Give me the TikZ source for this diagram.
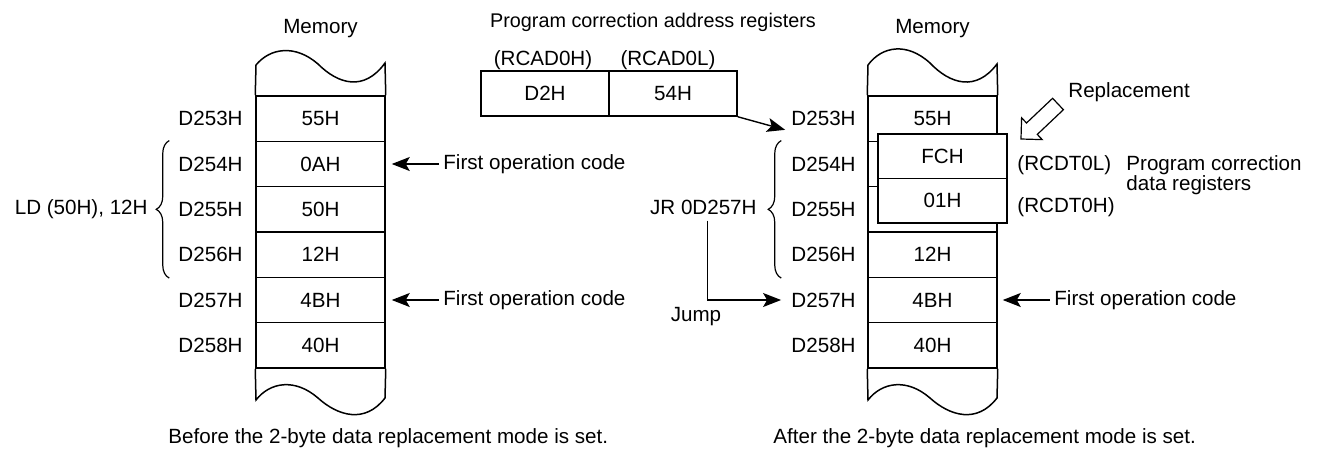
\documentclass[tikz,border=0pt]{standalone}
\usepackage{fontspec}
\setmainfont{Liberation Sans}
\usetikzlibrary{arrows.meta,decorations.pathreplacing}

\begin{document}
\begin{tikzpicture}[
    x=0.5pt, y=-0.5pt,
    font=\fontsize{10.3}{10}\selectfont,
    cell/.style={rectangle, draw, line width=0.75pt, minimum width=64.5pt, minimum height=22.67pt, inner sep=0pt},
    reg/.style={cell, fill=white, minimum height=22.25pt},
    addr/.style={anchor=east, inner sep=2pt},
    label/.style={inner sep=2pt},
    mem/.style={line width=0.75pt},
    brace/.style={decorate, decoration={brace, amplitude=6.5pt}, line width=0.6pt},
    arrow/.style={-{Stealth[length=9pt, width=7pt, inset=2pt]}, line width=0.7pt, shorten >=3pt},
    hollow/.style={draw, line width=0.6pt, line join=miter}
]
\useasboundingbox (0,0) rectangle (1319,451);

\node[label] (lmem) at (320.5,29) {Memory};
\node[cell] (lm1) at (320.5,118.67) {55H};
\node[cell] (lm2) at (320.5,164) {0AH};
\node[cell] (lm3) at (320.5,209.33) {50H};
\node[cell] (lm4) at (320.5,254.67) {12H};
\node[cell] (lm5) at (320.5,300) {4BH};
\node[cell] (lm6) at (320.5,345.33) {40H};
\draw[mem] (lm1.north west) -- (256,65) .. controls (270,48) and (295,44) .. (318,64)
    .. controls (338,84) and (364,92) .. (385,63) -- (lm1.north east);
\draw[mem] (lm6.south west) -- (256,400) .. controls (270,382) and (295,378) .. (318,398)
    .. controls (338,416) and (365,424) .. (385,398) -- (lm6.south east);

\node[addr] (la1) at (247,118.67) {D253H};
\node[addr] (la2) at (247,164) {D254H};
\node[addr] (la3) at (247,209.33) {D255H};
\node[addr] (la4) at (247,254.67) {D256H};
\node[addr] (la5) at (247,300) {D257H};
\node[addr] (la6) at (247,345.33) {D258H};
\draw[brace] ([xshift=-43pt]lm4.south west) -- ([xshift=-43pt]lm2.north west);
\node[addr] (ld) at (152,209) {LD (50H), 12H};

\node[label, anchor=west] (op1) at (439,164) {First operation code};
\node[label, anchor=west] (op2) at (439,300) {First operation code};
\draw[arrow] (op1.west) -- (lm2.east);
\draw[arrow] (op2.west) -- (lm5.east);
\node[label, anchor=west] (before) at (164,438) {Before the 2-byte data replacement mode is set.};

\node[label, font=\fontsize{9.9}{10}\selectfont] (title) at (653,22) {Program correction address registers};
\node[label] (rcadhl) at (543,60) {(RCAD0H)};
\node[label] (rcadll) at (668,60) {(RCAD0L)};
\node[reg, minimum width=64pt, minimum height=22.5pt] (rcadh) at (545,93.5) {D2H};
\node[reg, minimum width=64pt, minimum height=22.5pt] (rcadl) at (673,93.5) {54H};

\node[label] (rmem) at (932.5,29) {Memory};
\node[cell] (rm1) at (932.5,118.67) {55H};
\node[cell] (rm2) at (932.5,164) {};
\node[cell] (rm3) at (932.5,209.33) {};
\node[cell] (rm4) at (932.5,254.67) {12H};
\node[cell] (rm5) at (932.5,300) {4BH};
\node[cell] (rm6) at (932.5,345.33) {40H};
\draw[mem] (rm1.north west) -- (868,65) .. controls (882,46) and (907,42) .. (930,63)
    .. controls (950,84) and (976,92) .. (997,64) -- (rm1.north east);
\draw[mem] (rm6.south west) -- (868,400) .. controls (882,382) and (907,378) .. (930,398)
    .. controls (950,416) and (977,424) .. (997,398) -- (rm6.south east);
\node[reg] (fch) at (942.5,156.25) {FCH};
\node[reg] (one) at (942.5,200.75) {01H};

\node[addr] (ra1) at (860,118.67) {D253H};
\node[addr] (ra2) at (860,164) {D254H};
\node[addr] (ra3) at (860,209.33) {D255H};
\node[addr] (ra4) at (860,254.67) {D256H};
\node[addr] (ra5) at (860,300) {D257H};
\node[addr] (ra6) at (860,345.33) {D258H};
\draw[brace] ([xshift=-43pt]rm4.south west) -- ([xshift=-43pt]rm2.north west);
\node[addr] (jr) at (761,207) {JR 0D257H};
\node[label] (jump) at (696,317) {Jump};

\draw[arrow, shorten >=1pt] (rcadl.south east) -- (ra1.south west);
\draw[arrow] ([xshift=2pt,yshift=-1pt]jr.south) |- (ra5.west);

\draw[hollow] (1063.4,109.7) -- (1037.3,134.4) -- (1042.2,139.6) -- (1021,139)
    -- (1021.6,117.8) -- (1026.5,123) -- (1052.6,98.3) -- cycle;
\node[label, anchor=west] (repl) at (1064,92) {Replacement};
\node[label, anchor=west] (rcdtl) at (1013,165) {(RCDT0L)};
\node[label, anchor=west] (rcdth) at (1013,207) {(RCDT0H)};
\node[label, anchor=west, align=left] (datareg) at (1122,175) {Program correction\\data registers};

\node[label, anchor=west] (op3) at (1050,300) {First operation code};
\draw[arrow, shorten >=2.5pt] (op3.west) -- (rm5.east);
\node[label, anchor=west] (after) at (769,438) {After the 2-byte data replacement mode is set.};
\end{tikzpicture}
\end{document}
